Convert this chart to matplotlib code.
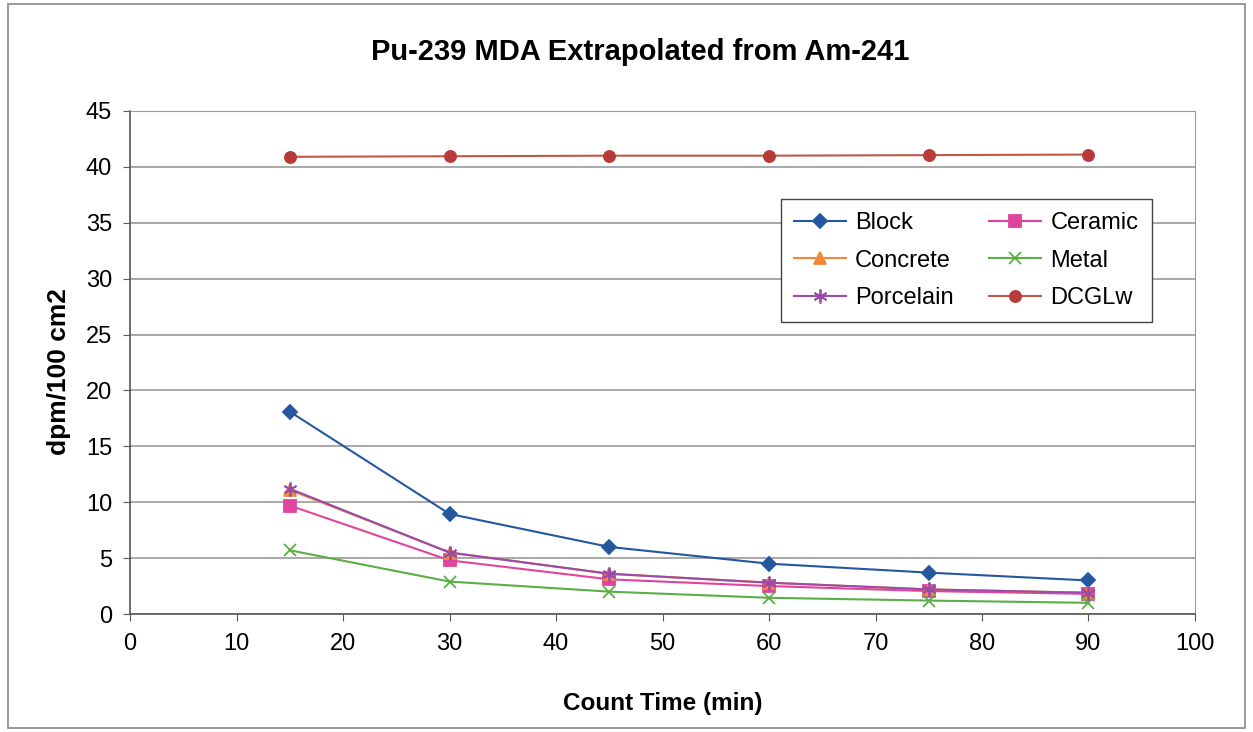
import matplotlib
matplotlib.use("Agg")
import matplotlib.pyplot as plt
from matplotlib.patches import Rectangle

plt.rcParams["font.family"] = ["Liberation Sans", "DejaVu Sans"]

count_time = [15, 30, 45, 60, 75, 90]
block = [18.1, 8.95, 6.0, 4.5, 3.7, 3.0]
ceramic = [9.7, 4.8, 3.1, 2.5, 2.05, 1.8]
concrete = [11.1, 5.5, 3.6, 2.8, 2.2, 1.9]
metal = [5.7, 2.9, 2.0, 1.45, 1.2, 1.0]
porcelain = [11.2, 5.5, 3.6, 2.8, 2.2, 1.9]
dcglw = [40.9, 40.95, 41.0, 41.0, 41.05, 41.1]

SERIES = [
    ("Block", block, "#24579f", "D", 7),
    ("Ceramic", ceramic, "#e0449c", "s", 8),
    ("Concrete", concrete, "#f08a3a", "^", 8),
    ("Metal", metal, "#5aae45", "x", 8),
    ("Porcelain", porcelain, "#9a4aa8", (6, 2, 0), 10),
    ("DCGLw", dcglw, "#c0584a", "o", 8),
]


def main() -> None:
    fig = plt.figure(figsize=(12.53, 7.32), dpi=100)
    ax = fig.add_axes([0.1038, 0.1612, 0.8499, 0.6872])

    handles = {}
    for label, values, color, marker, ms in SERIES:
        mcolor = "#b83a3a" if label == "DCGLw" else color
        (h,) = ax.plot(count_time, values, color=color, linewidth=1.5, marker=marker,
                       markersize=ms, markerfacecolor=mcolor, markeredgecolor=mcolor,
                       markeredgewidth=1.3, label=label, zorder=3)
        handles[label] = h

    ax.set_xlim(0, 100)
    ax.set_ylim(0, 45)
    ax.set_xticks(range(0, 101, 10))
    ax.set_yticks(range(0, 46, 5))
    ax.tick_params(labelsize=17, direction="out", length=5, color="#555555")
    ax.tick_params(axis="x", pad=9)
    ax.tick_params(axis="y", pad=8)
    ax.grid(axis="y", color="#9a9a9a", linewidth=1.2, zorder=0)
    ax.set_axisbelow(True)
    for side in ["top", "right"]:
        ax.spines[side].set_color("#9a9a9a")
    for side in ["left", "bottom"]:
        ax.spines[side].set_color("#555555")
        ax.spines[side].set_linewidth(1.2)

    fig.text(640 / 1253, 1 - 52 / 732, "Pu-239 MDA Extrapolated from Am-241",
             fontsize=21, fontweight="bold", ha="center", va="center")
    ax.set_xlabel("Count Time (min)", fontsize=17.5, fontweight="bold")
    ax.xaxis.set_label_coords(0.5, -0.155)
    ax.set_ylabel("dpm/100 cm2", fontsize=19, fontweight="bold", va="center")
    ax.yaxis.set_label_coords(-0.0667, 0.481)

    # row-wise legend order: Block Ceramic / Concrete Metal / Porcelain DCGLw
    order = ["Block", "Concrete", "Porcelain", "Ceramic", "Metal", "DCGLw"]
    ax.legend([handles[k] for k in order], order, loc="upper left",
              bbox_to_anchor=(0.611, 0.825), borderaxespad=0, ncol=2,
              fontsize=17, frameon=True, fancybox=False, edgecolor="#444444",
              framealpha=1, handlelength=2.2, handletextpad=0.4,
              columnspacing=1.5, labelspacing=0.66, borderpad=0.55)

    fig.patches.append(Rectangle((0.006, 0.006), 0.988, 0.988,
                                 transform=fig.transFigure, fill=False,
                                 edgecolor="#888888", linewidth=1.2))

    fig.savefig("out.png", dpi=100)


if __name__ == "__main__":
    main()
